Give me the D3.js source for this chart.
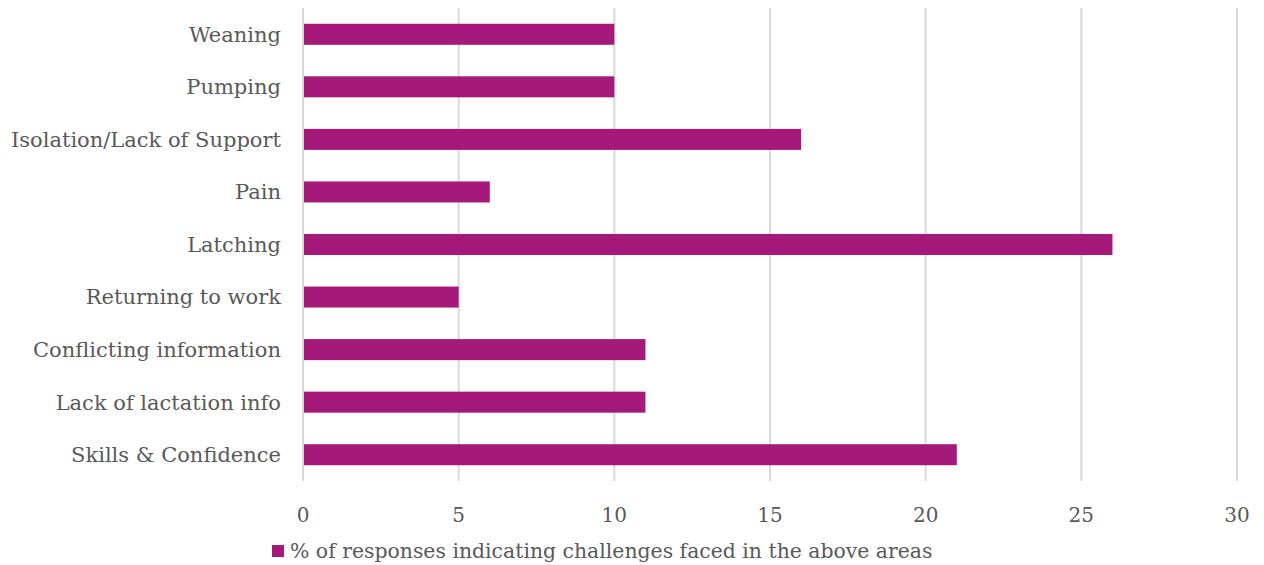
<!DOCTYPE html>
<html><head><meta charset="utf-8">
<script src="https://cdn.jsdelivr.net/npm/d3@7"></script>
<style>body{margin:0;background:#fff}svg{display:block}</style>
</head><body>
<svg id="c" width="1264" height="565"></svg>
<script>
const categories = ["Weaning","Pumping","Isolation/Lack of Support","Pain","Latching","Returning to work","Conflicting information","Lack of lactation info","Skills & Confidence"];
const values = [10,10,16,6,26,5,11,11,21];
const tickValues = [0,5,10,15,20,25,30];
const seriesName = "% of responses indicating challenges faced in the above areas";

const font = "'DejaVu Serif', Georgia, serif";
const color = "#A5197A";
const textColor = "#595959";
const svg = d3.select("#c");
const m = {left:303, right:1237, top:8, bottom:481};
const x = d3.scaleLinear().domain([0,30]).range([m.left, m.right]);
const y = d3.scaleBand().domain(categories).range([m.top, m.bottom]).paddingInner(0.6).paddingOuter(0.3);

svg.append("g").selectAll("line").data(tickValues).join("line")
  .attr("x1", d=>x(d)).attr("x2", d=>x(d)).attr("y1", m.top).attr("y2", m.bottom)
  .attr("stroke", "#d9d9d9").attr("stroke-width", 2);

svg.append("g").selectAll("rect").data(values).join("rect")
  .attr("x", x(0)+1).attr("y", (d,i)=>y(categories[i]))
  .attr("width", d=>x(d)-x(0)-1).attr("height", y.bandwidth()).attr("fill", color);

svg.append("g").selectAll("text").data(categories).join("text")
  .attr("x", 281).attr("y", d=>y(d)+y.bandwidth()/2).attr("dy","0.35em")
  .attr("text-anchor","end").attr("font-family",font).attr("font-size",21).attr("fill",textColor)
  .text(d=>d);

svg.append("g").selectAll("text").data(tickValues).join("text")
  .attr("x", d=>x(d)).attr("y", 522).attr("text-anchor","middle")
  .attr("font-family",font).attr("font-size",20).attr("fill",textColor).text(d=>d);

svg.append("rect").attr("x",272).attr("y",545).attr("width",12).attr("height",12).attr("fill",color);
svg.append("text").attr("x",290).attr("y",558).attr("font-family",font).attr("font-size",20.4).attr("fill",textColor).text(seriesName);
</script>
</body></html>
